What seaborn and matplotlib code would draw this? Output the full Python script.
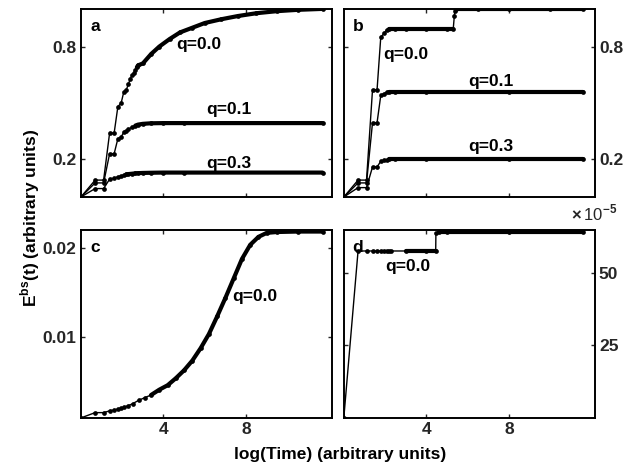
import numpy as np
import seaborn as sns
import matplotlib
matplotlib.use("Agg")
import matplotlib.pyplot as plt
from matplotlib.ticker import FuncFormatter

sns.set_theme(style="white")
plt.rcParams["font.family"] = ["Liberation Sans", "DejaVu Sans"]
plt.rcParams["font.weight"] = "bold"
plt.rcParams["mathtext.fontset"] = "custom"
plt.rcParams["mathtext.rm"] = "Liberation Sans:bold"
plt.rcParams["mathtext.bf"] = "Liberation Sans:bold"

# panel a: smooth relaxation, three q values
xa = [0, 0.69, 1.10, 1.39, 1.61, 1.79, 1.95, 2.08, 2.20, 2.30, 2.40, 2.48, 2.56,
      2.64, 2.71, 2.77, 3.0, 3.4, 3.8, 4.3, 4.8, 5.4, 6.0, 6.8, 7.6, 8.5, 9.5,
      10.5, 11.7]
ya_q00 = [0, 0.09, 0.09, 0.34, 0.34, 0.48, 0.50, 0.56, 0.57, 0.60, 0.63, 0.65,
          0.66, 0.675, 0.69, 0.70, 0.71, 0.76, 0.80, 0.84, 0.875, 0.90, 0.925,
          0.945, 0.962, 0.977, 0.988, 0.995, 1.0]
xa_low = [0, 0.69, 1.10, 1.39, 1.61, 1.79, 1.95, 2.08, 2.20, 2.30, 2.48, 2.64,
          2.77, 3.0, 3.4, 4.0, 5.0, 11.7]
ya_q01 = [0, 0.075, 0.075, 0.23, 0.23, 0.31, 0.32, 0.345, 0.35, 0.36, 0.372,
          0.38, 0.385, 0.389, 0.392, 0.393, 0.393, 0.393]
ya_q03 = [0, 0.045, 0.045, 0.095, 0.10, 0.108, 0.112, 0.117, 0.12, 0.122, 0.124,
          0.126, 0.127, 0.128, 0.129, 0.13, 0.13, 0.13]

# panel b: step-like relaxation
xb = [0, 0.69, 1.10, 1.39, 1.61, 1.79, 1.95, 2.08, 2.20, 2.5, 3.0, 4.0, 5.0,
      5.3, 5.35, 5.38, 5.45, 6.5, 8.0, 10.0, 11.6]
yb_q00 = [0, 0.09, 0.09, 0.57, 0.57, 0.85, 0.87, 0.89, 0.895, 0.895, 0.895,
          0.895, 0.895, 0.895, 0.96, 0.99, 0.997, 0.997, 0.997, 0.997, 0.997]
xb_low = [0, 0.69, 1.10, 1.39, 1.61, 1.79, 1.95, 2.08, 2.20, 2.5, 4.0, 8.0, 11.6]
yb_q01 = [0, 0.075, 0.075, 0.395, 0.395, 0.54, 0.55, 0.558, 0.56, 0.56, 0.56,
          0.56, 0.56]
yb_q03 = [0, 0.05, 0.05, 0.16, 0.16, 0.19, 0.195, 0.198, 0.2, 0.2, 0.2, 0.2, 0.2]

# panel c: sigmoidal rise
xc = [0, 0.69, 1.10, 1.39, 1.61, 1.79, 1.95, 2.08, 2.3, 2.5, 2.8, 3.1, 3.4, 3.8,
      4.2, 4.6, 5.0, 5.4, 5.8, 6.2, 6.6, 7.0, 7.4, 7.8, 8.2, 8.6, 9.0, 9.5,
      10.5, 11.7]
yc_q00 = [0.0008, 0.0014, 0.0014, 0.0016, 0.0017, 0.0018, 0.0019, 0.0020,
          0.0022, 0.0024, 0.0028, 0.0031, 0.0034, 0.0040, 0.0045, 0.0053,
          0.0062, 0.0073, 0.0087, 0.0103, 0.0123, 0.0144, 0.0166, 0.0188,
          0.0204, 0.0213, 0.02175, 0.02185, 0.0219, 0.0219]

# panel d: two plateaus (x 1e-5)
xd = [0, 0.69, 1.10, 1.39, 1.61, 1.79, 1.95, 2.08, 2.2, 2.3, 3.0, 4.0, 4.45,
      4.46, 4.6, 5.0, 8.0, 11.6]
yd_q00 = [0, 57.5e-5, 57.5e-5, 57.5e-5, 57.5e-5, 57.5e-5, 57.5e-5, 57.5e-5,
          57.5e-5, 57.5e-5, 57.5e-5, 57.5e-5, 57.5e-5, 63.8e-5, 64.0e-5,
          64.0e-5, 64.0e-5, 64.0e-5]


def draw(ax, x, y, thick):
    x = np.asarray(x)
    y = np.asarray(y)
    sns.lineplot(x=x, y=y, ax=ax, color="black", lw=1.0, marker="o",
                 markersize=3.4, markeredgewidth=0, estimator=None, sort=False)
    # dense sampling at late times shows up as a heavy line
    for lo, hi in thick:
        m = (x >= lo) & (x <= hi)
        sns.lineplot(x=x[m], y=y[m], ax=ax, color="black", lw=3.0,
                     estimator=None, sort=False)


fig = plt.figure(figsize=(6.32, 4.68), dpi=100)
W, H = 0.397, 0.402
ax_a = fig.add_axes([0.128, 0.579, W, H])
ax_b = fig.add_axes([0.544, 0.579, W, H])
ax_c = fig.add_axes([0.128, 0.107, W, H])
ax_d = fig.add_axes([0.544, 0.107, W, H])

draw(ax_a, xa, ya_q00, [(2.7, 12)])
draw(ax_a, xa_low, ya_q01, [(2.5, 12)])
draw(ax_a, xa_low, ya_q03, [(2.2, 12)])
draw(ax_b, xb, yb_q00, [(2.1, 5.3), (5.45, 12)])
draw(ax_b, xb_low, yb_q01, [(2.1, 12)])
draw(ax_b, xb_low, yb_q03, [(2.2, 12)])
draw(ax_c, xc, yc_q00, [(3.3, 12)])
draw(ax_d, xd, yd_q00, [(3.0, 4.45), (4.6, 12)])

for ax in (ax_a, ax_b, ax_c, ax_d):
    ax.set_xlim(0, 12.15)
    ax.set_xticks([4, 8])
    ax.tick_params(direction="in", length=3, width=1, top=True, right=True,
                   bottom=True, left=True, labelsize=12.5, pad=3)
    for s in ax.spines.values():
        s.set_linewidth(1.4)
        s.set_color("black")
    ax.set_xlabel("")
    ax.set_ylabel("")

ax_a.set_ylim(0, 1.0)
ax_b.set_ylim(0, 1.0)
ax_c.set_ylim(0.0008, 0.0221)
ax_d.set_ylim(0, 64.8e-5)

ax_a.set_yticks([0.2, 0.8])
ax_b.set_yticks([0.2, 0.8])
ax_c.set_yticks([0.01, 0.02])
ax_d.set_yticks([25e-5, 50e-5])
ax_d.yaxis.set_major_formatter(FuncFormatter(lambda v, p: f"{v * 1e5:.0f}"))

ax_a.tick_params(labelbottom=False)
ax_b.tick_params(labelbottom=False, labelleft=False, labelright=True)
ax_d.tick_params(labelleft=False, labelright=True)

for ax in (ax_a, ax_b, ax_c, ax_d):
    for lab in ax.get_xticklabels() + ax.get_yticklabels():
        lab.set_fontweight("bold")

txt = dict(fontsize=12.5, fontweight="bold", color="black")
for ax, letter in zip((ax_a, ax_b, ax_c, ax_d), "abcd"):
    ax.text(0.056, 0.905, letter, transform=ax.transAxes, ha="center",
            va="center", **txt)

ax_a.text(5.69, 0.81, "q=0.0", ha="center", va="center", **txt)
ax_a.text(7.15, 0.466, "q=0.1", ha="center", va="center", **txt)
ax_a.text(7.15, 0.18, "q=0.3", ha="center", va="center", **txt)
ax_b.text(3.02, 0.755, "q=0.0", ha="center", va="center", **txt)
ax_b.text(7.12, 0.613, "q=0.1", ha="center", va="center", **txt)
ax_b.text(7.12, 0.267, "q=0.3", ha="center", va="center", **txt)
ax_c.text(7.35, 0.0145, "q=0.0", ha="left", va="center", **txt)
ax_d.text(3.1, 52.3e-5, "q=0.0", ha="center", va="center", **txt)

fig.text(0.977, 0.53, r"$\times\,$10$^{-5}$", ha="right", va="baseline",
         fontsize=12, fontweight="normal")

fig.text(0.538, 0.028, "log(Time) (arbitrary units)", ha="center",
         va="center", **txt)
fig.text(0.047, 0.535, r"E$^{\mathbf{bs}}$(t) (arbitrary units)", ha="center",
         va="center", rotation=90, **txt)

fig.savefig("out.png", dpi=100)
